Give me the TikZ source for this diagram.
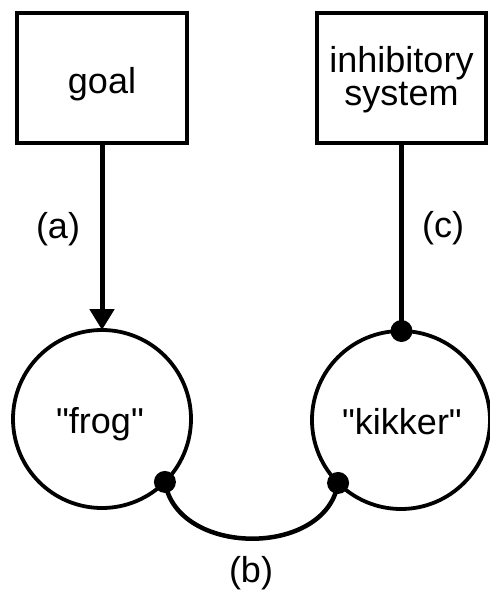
\documentclass[tikz,border=0pt]{standalone}
\usepackage{fontspec}
\setmainfont{Liberation Sans}[Ligatures=ResetAll]
\usetikzlibrary{arrows.meta}
\newcommand{\sq}{\XeTeXglyph\XeTeXglyphindex "quotedbl" \relax}
\begin{document}
\begin{tikzpicture}[x=1pt,y=-1pt,
  box/.style={draw, line width=4pt, minimum width=170pt, minimum height=130pt, inner sep=0pt, outer sep=0pt},
  unit/.style={draw, circle, line width=3.8pt, minimum size=178pt, inner sep=0pt, outer sep=0pt},
  txt/.style={font=\fontsize{36}{31}\selectfont, inner sep=0pt, anchor=base},
  conn/.style={line width=5pt},
  arc/.style={line width=4.5pt}]
\useasboundingbox (0,0) rectangle (490,590);
\node[box] (goal) at (102,78) {};
\node[box, minimum width=169pt] (inhib) at (401.5,78) {};
\node[unit] (frog) at (102,419) {};
\node[unit] (kikker) at (401,420) {};
\node[txt] (tgoal) at (102,93) {goal};
\node[txt] (tinh1) at (401.5,72) {inhibitory};
\node[txt] (tinh2) at (401.5,105) {system};
\node[txt] (tfrog) at (100,433) {\sq frog\sq};
\node[txt] (tkik) at (402,434) {\sq kikker\sq};
\node[txt] (la) at (58,238) {(a)};
\node[txt] (lc) at (443,237) {(c)};
\node[txt] (lb) at (251,582) {(b)};
\draw[conn, -{Triangle[length=21pt,width=24pt]}] (goal.south) -- (frog.north);
\draw[conn] (inhib.south) -- (inhib.south |- kikker.north);
\draw[arc] (frog.-45) .. controls +(12,75) and +(-12,75) .. (kikker.-135);
\fill (frog.-45) circle (11pt);
\fill (kikker.-135) circle (11pt);
\fill (inhib.south |- kikker.north) circle (11pt);
\end{tikzpicture}
\end{document}
